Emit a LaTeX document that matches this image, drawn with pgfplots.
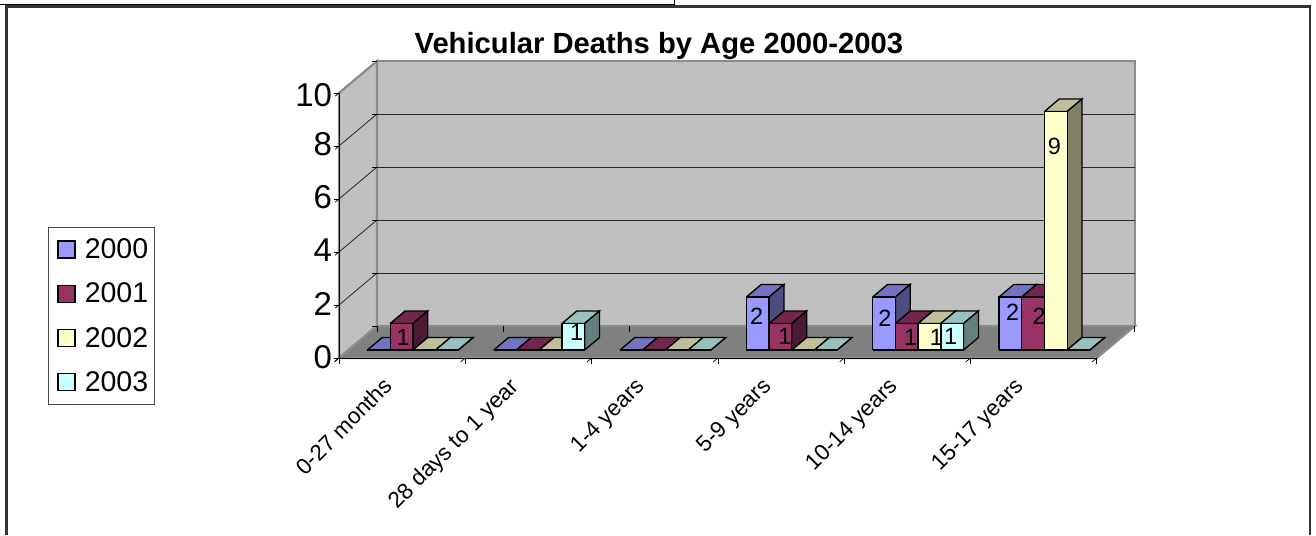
\documentclass[border=0pt]{standalone}
\usepackage{fontspec}
\setmainfont{Liberation Sans}
\usepackage{pgfplots}
\usepackage{pgfplotstable}
\pgfplotsset{compat=1.18}

\definecolor{wall}{HTML}{C0C0C0}
\definecolor{floorc}{HTML}{808080}
\definecolor{edge}{HTML}{8C8C8C}
\definecolor{fA}{HTML}{9999FF}
\definecolor{tA}{HTML}{7373BF}
\definecolor{sA}{HTML}{4D4D80}
\definecolor{fB}{HTML}{993366}
\definecolor{tB}{HTML}{73264D}
\definecolor{sB}{HTML}{4D1A33}
\definecolor{fC}{HTML}{FFFFCC}
\definecolor{tC}{HTML}{BFBF99}
\definecolor{sC}{HTML}{808066}
\definecolor{fD}{HTML}{CCFFFF}
\definecolor{tD}{HTML}{99BFBF}
\definecolor{sD}{HTML}{668080}

% data label offsets in pt, by category and series
\newcommand{\setlabel}[4]{\expandafter\def\csname lab#1-#2\endcsname{{#3}{#4}}}
\setlabel{0}{1}{1.5}{-1}
\setlabel{1}{3}{3.4}{4.3}
\setlabel{3}{0}{-1}{6.8}
\setlabel{3}{1}{4.5}{0}
\setlabel{4}{0}{1}{5.5}
\setlabel{4}{1}{4}{-1}
\setlabel{4}{2}{7}{-1}
\setlabel{4}{3}{-1.5}{0}
\setlabel{5}{0}{2.4}{10.8}
\setlabel{5}{1}{6}{6.8}
\setlabel{5}{2}{-1.5}{84.3}

% data label: category, series, value, shift right, shift up
\newcommand{\barlabel}[5]{%
  \pgfmathsetmacro\xc{#1+0.15+0.18*#2+0.09}%
  \pgfmathsetmacro\zc{#3/2}%
  \addplot3[draw=none, point meta=explicit symbolic, nodes near coords,
    nodes near coords style={anchor=center, xshift=#4pt, yshift=#5pt, text=black,
      font=\fontsize{23.5}{23.5}\selectfont, inner sep=0pt}]
    coordinates {(\xc,0.25,\zc) [#3]};
}
% one bar: category, series number, value, colour suffix
\newcommand{\drawbar}[4]{%
  \pgfmathsetmacro\xa{#1+0.15+0.18*#2}%
  \pgfmathsetmacro\xb{\xa+0.18}%
  \addplot3[draw=black, line width=1.3pt, fill=t#4] coordinates {(\xa,0.25,#3) (\xb,0.25,#3) (\xb,0.64,#3) (\xa,0.64,#3) (\xa,0.25,#3)};
  \addplot3[draw=black, line width=1.3pt, fill=s#4] coordinates {(\xb,0.25,0) (\xb,0.64,0) (\xb,0.64,#3) (\xb,0.25,#3) (\xb,0.25,0)};
  \addplot3[draw=black, line width=1.3pt, fill=f#4] coordinates {(\xa,0.25,0) (\xb,0.25,0) (\xb,0.25,#3) (\xa,0.25,#3) (\xa,0.25,0)};
  \ifcsname lab#1-#2\endcsname
    \edef\tmpargs{\csname lab#1-#2\endcsname}%
    \expandafter\barlabelargs\expandafter{\tmpargs}{#1}{#2}{#3}%
  \fi
}
\newcommand{\barlabelargs}[4]{\barlabelsplit#1{#2}{#3}{#4}}
\newcommand{\barlabelsplit}[5]{\barlabel{#3}{#4}{#5}{#1}{#2}}

\pgfplotstableread{
cat y2000 y2001 y2002 y2003
0   0     1     0     0
1   0     0     0     1
2   0     0     0     0
3   2     1     0     0
4   2     1     1     1
5   2     2     9     0
}\deaths

\begin{document}
\begin{tikzpicture}
\begin{axis}[
    set layers,
    x={(126.3pt,0pt)}, y={(38pt,32pt)}, z={(0pt,26.5pt)},
    xmin=0, xmax=6, ymin=0, ymax=1, zmin=0, zmax=10,
    clip=false,
    axis line style={draw=none},
    ytick=\empty,
    xtick={0.5,1.5,2.5,3.5,4.5,5.5},
    xticklabels={0-27 months,28 days to 1 year,1-4 years,5-9 years,10-14 years,15-17 years},
    minor xtick={0,1,2,3,4,5,6},
    ztick={2,4,6,8},
    extra z ticks={0,10},
    extra z tick style={grid=none},
    zmajorgrids=true,
    grid style={draw=black!85, line width=0.8pt},
    tick pos=left,
    tick align=outside,
    major x tick style={draw=none},
    minor x tick style={draw=black, line width=0.7pt},
    major z tick style={draw=black, line width=0.7pt},
    minor tick length=6pt,
    major tick length=5pt,
    x tick label style={rotate=45, anchor=north east, font=\fontsize{22.5}{22.5}\selectfont, inner sep=0pt, xshift=-22pt, yshift=1pt},
    z tick label style={font=\fontsize{33}{33}\selectfont, inner sep=0pt, xshift=-3pt, yshift=8pt},
    /pgf/number format/assume math mode=true,
    title={Vehicular Deaths by Age 2000-2003},
    title style={at={(axis description cs:0.402,1.03)}, anchor=center, inner sep=0pt,
      font=\fontsize{29.2}{29.2}\selectfont\bfseries},
    legend image code/.code={\path (0pt,0pt) (29pt,0pt); \draw[#1] (5pt,-8.5pt) rectangle (22pt,8.5pt);},
    legend style={at={(axis description cs:-0.3656,0.4426)}, anchor=north west,
      draw=black!70, line width=0.8pt, font=\fontsize{28.5}{28.5}\selectfont,
      row sep=18.7pt, inner xsep=4pt, inner ysep=10pt},
    legend cell align=left,
  ]
  \addlegendimage{draw=black, line width=1.3pt, fill=fA}
  \addlegendimage{draw=black, line width=1.3pt, fill=fB}
  \addlegendimage{draw=black, line width=1.3pt, fill=fC}
  \addlegendimage{draw=black, line width=1.3pt, fill=fD}
  \legend{2000,2001,2002,2003}

  % walls and floor
  \addplot3[on layer=axis background, draw=edge, line width=2.2pt, fill=wall] coordinates {(0,1,0) (6,1,0) (6,1,10) (0,1,10) (0,1,0)};
  \addplot3[on layer=axis background, draw=edge, line width=2.2pt, fill=wall] coordinates {(0,0,0) (0,1,0) (0,1,10) (0,0,10) (0,0,0)};
  \addplot3[on layer=axis background, draw=edge, line width=2.2pt, fill=floorc] coordinates {(0,0,0) (6,0,0) (6,1,0) (0,1,0) (0,0,0)};
  % front edges
  \addplot3[draw=black, line width=0.8pt] coordinates {(0,0,0) (6,0,0)};
  \addplot3[draw=black, line width=0.8pt] coordinates {(0,0,0) (0,0,10)};

  \pgfplotsforeachungrouped \c in {0,...,5}{%
    \pgfplotstablegetelem{\c}{y2000}\of\deaths \edef\va{\pgfplotsretval}%
    \pgfplotstablegetelem{\c}{y2001}\of\deaths \edef\vb{\pgfplotsretval}%
    \pgfplotstablegetelem{\c}{y2002}\of\deaths \edef\vc{\pgfplotsretval}%
    \pgfplotstablegetelem{\c}{y2003}\of\deaths \edef\vd{\pgfplotsretval}%
    \edef\tmpbars{%
      \noexpand\drawbar{\c}{0}{\va}{A}%
      \noexpand\drawbar{\c}{1}{\vb}{B}%
      \noexpand\drawbar{\c}{2}{\vc}{C}%
      \noexpand\drawbar{\c}{3}{\vd}{D}}%
    \tmpbars
  }
  \coordinate (O) at (axis cs:0,0,0);
\end{axis}
\pgfresetboundingbox
\begin{scope}[shift={(O)}, x=1pt, y=-1pt]
\begin{scope}[shift={(-339pt,358pt)}]
  \path[use as bounding box] (0,0) rectangle (1316,535);
  \draw[black!80, line width=2.5pt] (6.5,535) -- (6.5,6.5) -- (1310,6.5) -- (1310,535);
  \draw[black, line width=1.2pt] (0,4.5) -- (674.5,4.5) -- (674.5,0);
\end{scope}
\end{scope}
\end{tikzpicture}
\end{document}
